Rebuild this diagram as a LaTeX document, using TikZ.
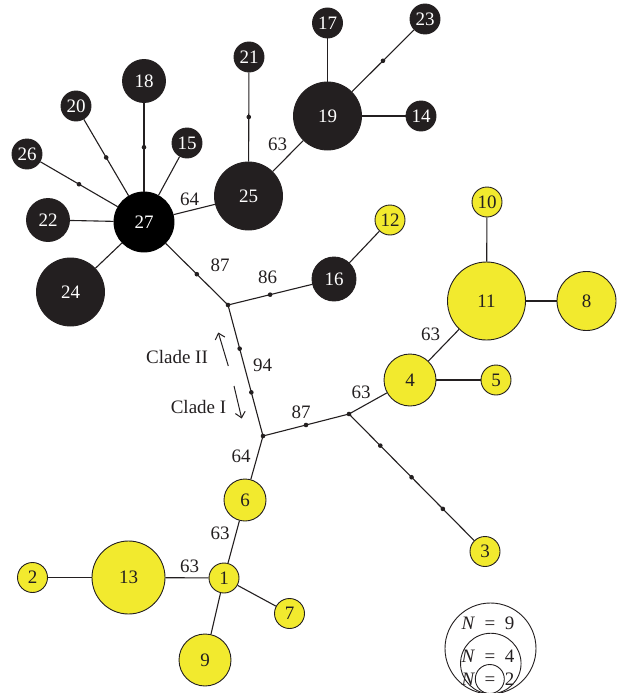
\documentclass[tikz,border=0pt]{standalone}
\usepackage{fontspec}
\setmainfont{Liberation Serif}
\usetikzlibrary{arrows.meta}
\definecolor{hapdark}{RGB}{35,31,32}
\definecolor{hapyellow}{RGB}{242,234,46}
\begin{document}
\begin{tikzpicture}[x=1pt,y=-1pt,
  hap/.style={circle,inner sep=0pt,line width=0.9pt,draw=hapdark,font=\fontsize{19}{19}\selectfont},
  dk/.style={hap,fill=hapdark,text=white},
  blk/.style={hap,fill=black,draw=black,text=white},
  yl/.style={hap,fill=hapyellow,text=hapdark},
  edge/.style={draw=hapdark,line width=1.1pt},
  mv/.style={circle,fill=hapdark,inner sep=0pt,minimum size=4.6pt},
  lbl/.style={font=\fontsize{19}{19}\selectfont,text=hapdark,inner sep=0pt},
  legc/.style={circle,draw=hapdark,line width=0.9pt,inner sep=0pt},
  cladearrow/.style={draw=hapdark,line width=1pt,-{Straight Barb[length=5.5pt,width=10pt]}},
  ]
\useasboundingbox (0,0) rectangle (616,693);
% haplotype circles
\node[blk,minimum size=60pt] (n27) at (144,222) {27};
\node[dk,minimum size=68pt] (n25) at (248.5,196) {25};
\node[dk,minimum size=68pt] (n19) at (327.5,116) {19};
\node[dk,minimum size=30pt] (n17) at (327.5,23) {17};
\node[dk,minimum size=30pt] (n23) at (425,19) {23};
\node[dk,minimum size=30pt] (n14) at (421,116) {14};
\node[dk,minimum size=30pt] (n21) at (249,57) {21};
\node[dk,minimum size=43pt] (n18) at (144,81) {18};
\node[dk,minimum size=30pt] (n20) at (76,106) {20};
\node[dk,minimum size=30pt] (n15) at (187,143) {15};
\node[dk,minimum size=30pt] (n26) at (27,154) {26};
\node[dk,minimum size=43pt] (n22) at (48,220) {22};
\node[dk,minimum size=68pt] (n24) at (70.5,292) {24};
\node[dk,minimum size=44pt] (n16) at (334,279) {16};
\node[yl,minimum size=30pt] (n12) at (390,220) {12};
\node[yl,minimum size=30pt] (n10) at (487,202) {10};
\node[yl,minimum size=78pt] (n11) at (486.5,301) {11};
\node[yl,minimum size=59pt] (n8) at (586.5,301) {8};
\node[yl,minimum size=52pt] (n4) at (410,380) {4};
\node[yl,minimum size=30pt] (n5) at (496,380) {5};
\node[yl,minimum size=30pt] (n3) at (485,551.5) {3};
\node[yl,minimum size=42pt] (n6) at (245,500) {6};
\node[yl,minimum size=30pt] (n1) at (224,578) {1};
\node[yl,minimum size=73pt] (n13) at (128.5,577.5) {13};
\node[yl,minimum size=30pt] (n2) at (32.5,577.5) {2};
\node[yl,minimum size=30pt] (n7) at (289.5,613.5) {7};
\node[yl,minimum size=52pt] (n9) at (205,660) {9};
% median vectors / junctions
\coordinate (j1) at (228,305);
\coordinate (j2) at (263,436);
\coordinate (j3) at (349,414);
\node[mv] (m1) at (j1) {};
\node[mv] (m2) at (j2) {};
\node[mv] (m3) at (j3) {};
% connectors
\draw[edge] (n27) -- (n25);
\draw[edge] (n25) -- (n19);
\draw[edge] (n19) -- (n17);
\draw[edge] (n19) -- node[mv,pos=0.5]{} (n23);
\draw[edge] (n19) -- (n14);
\draw[edge] (n25) -- node[mv,pos=0.5]{} (n21);
\draw[edge] (n27) -- node[mv,pos=0.5]{} (n18);
\draw[edge] (n27) -- node[mv,pos=0.5]{} (n20);
\draw[edge] (n27) -- (n15);
\draw[edge] (n27) -- node[mv,pos=0.5]{} (n26);
\draw[edge] (n27) -- (n22);
\draw[edge] (n27) -- (n24);
\draw[edge] (n27) -- node[mv,pos=0.5]{} (j1);
\draw[edge] (j1) -- node[mv,pos=0.5]{} (n16);
\draw[edge] (n16) -- (n12);
\draw[edge] (j1) -- node[mv,pos=0.3333]{} node[mv,pos=0.6667]{} (j2);
\draw[edge] (j2) -- node[mv,pos=0.5]{} (j3);
\draw[edge] (j3) -- (n4);
\draw[edge] (n4) -- (n11);
\draw[edge] (n4) -- (n5);
\draw[edge] (n11) -- (n10);
\draw[edge] (n11) -- (n8);
\draw[edge] (j3) -- node[mv,pos=0.25]{} node[mv,pos=0.5]{} node[mv,pos=0.75]{} (n3);
\draw[edge] (j2) -- (n6);
\draw[edge] (n6) -- (n1);
\draw[edge] (n1) -- (n13);
\draw[edge] (n13) -- (n2);
\draw[edge] (n1) -- (n7);
\draw[edge] (n1) -- (n9);
% edge labels
\node[lbl] (l1) at (189.5,199.5) {64};
\node[lbl] (l2) at (277.5,144) {63};
\node[lbl] (l3) at (220,265) {87};
\node[lbl] (l4) at (267.5,277) {86};
\node[lbl] (l5) at (262.5,365) {94};
\node[lbl] (l6) at (301,412.5) {87};
\node[lbl] (l7) at (361,392.5) {63};
\node[lbl] (l8) at (430.5,334.5) {63};
\node[lbl] (l9) at (241,456.5) {64};
\node[lbl] (l10) at (220,533.5) {63};
\node[lbl] (l11) at (189.5,566.5) {63};
% clade labels
\node[lbl] (cII) at (177,356.5) {Clade II};
\node[lbl] (cI) at (198.5,406.5) {Clade I};
\coordinate (a1s) at (228.3,366);
\coordinate (a1e) at (218.3,332.5);
\coordinate (a2s) at (234,386);
\coordinate (a2e) at (241.7,418.5);
\draw[cladearrow] (a1s) -- (a1e);
\draw[cladearrow] (a2s) -- (a2e);
% legend
\node[lbl] (t9) at (488,623) {\textit{N}\enspace=\enspace9};
\node[lbl] (t4) at (488,656) {\textit{N}\enspace=\enspace4};
\node[lbl] (t2) at (488,679) {\textit{N}\enspace=\enspace2};
\node[legc,minimum size=91pt] (g9) at (490.5,648.5) {};
\node[legc,minimum size=60.5pt] (g4) at (490.8,663.5) {};
\node[legc,minimum size=29pt] (g2) at (489.8,679) {};
\end{tikzpicture}
\end{document}
